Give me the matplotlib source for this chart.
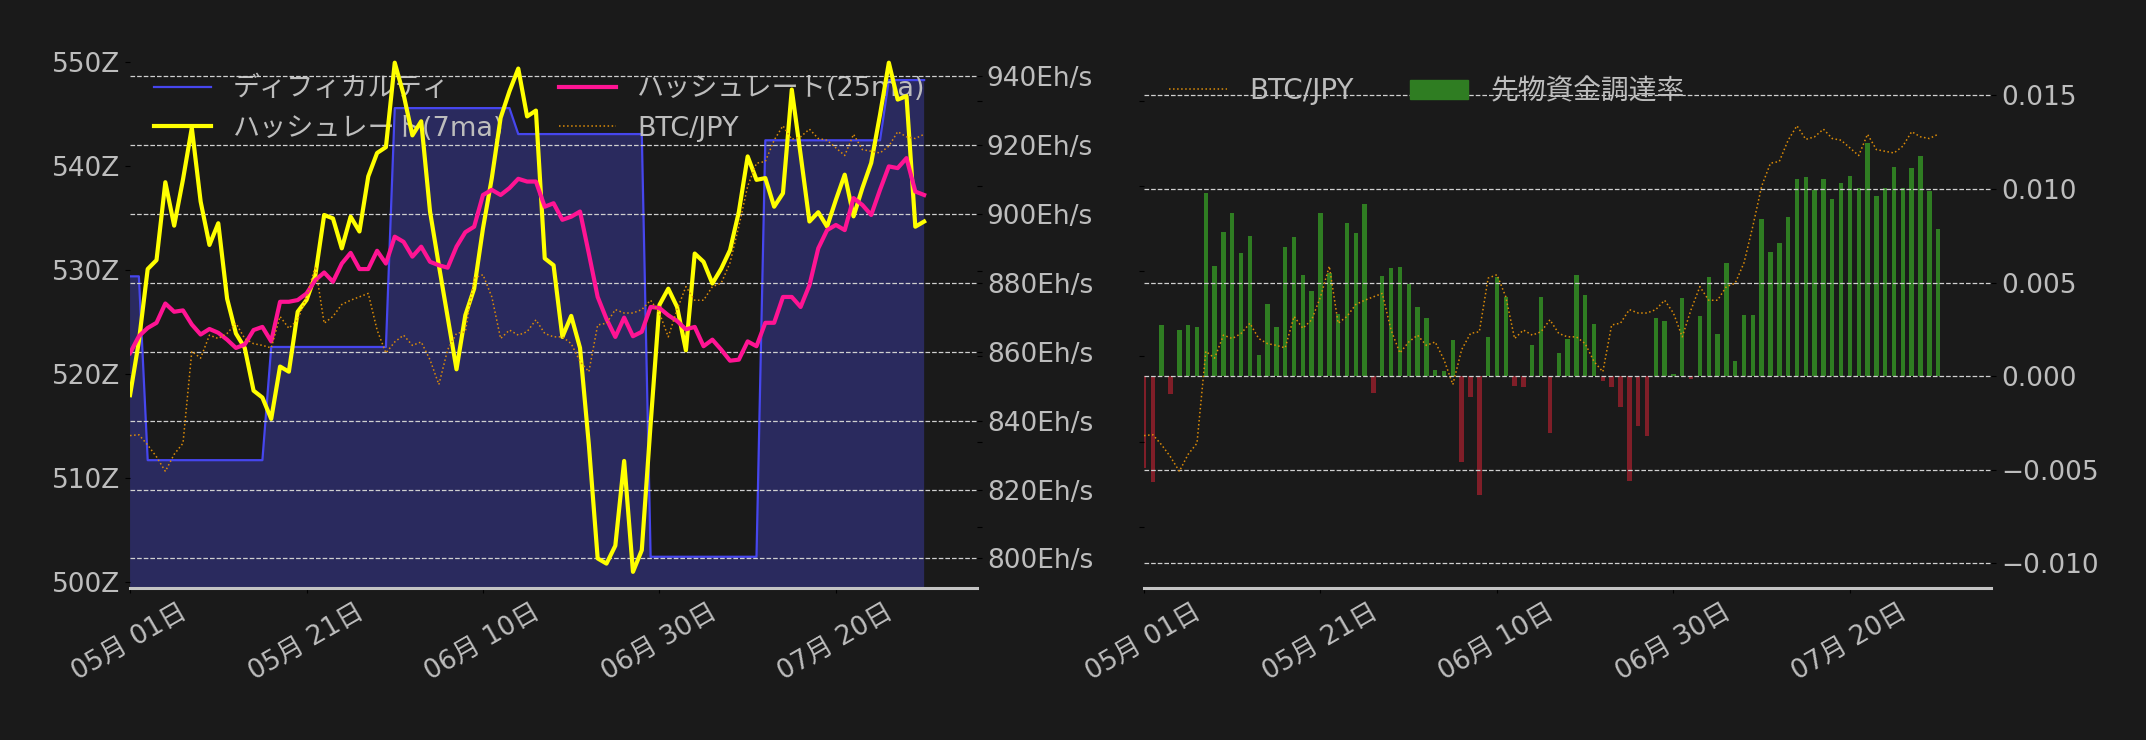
import matplotlib
matplotlib.use('Agg')
import matplotlib.pyplot as plt
import matplotlib.dates as mdates
import matplotlib.ticker as mticker
from matplotlib.patches import Patch
import numpy as np
import pandas as pd

plt.rcParams['font.family'] = ['DejaVu Sans', 'Noto Sans CJK JP']
plt.rcParams['font.size'] = 19

BG = '#1a1a1a'
TXT = '#bdbdbd'

dates = pd.date_range('2025-05-01', periods=91, freq='D')

# difficulty (Z) - levels between adjustments and how many days each lasted
diff_levels = [529.4, 511.7, 522.6, 545.6, 543.1, 502.4, 542.5, 548.3]
diff_days = [2, 14, 14, 14, 15, 13, 14, 5]

# hashrate 7 day MA (Eh/s)
hash7 = [847.4, 863.0, 884.0, 886.6, 909.2, 896.6, 910.0, 925.0, 903.6, 891.0,
         897.3, 875.4, 865.3, 861.1, 848.7, 846.7, 840.5, 855.7, 854.2, 871.6,
         875.0, 882.2, 899.7, 898.7, 890.0, 899.2, 894.9, 910.9, 917.7, 919.4,
         943.9, 934.7, 922.8, 926.9, 900.7, 885.1, 870.0, 854.9, 870.6, 878.3,
         895.8, 910.4, 927.9, 935.6, 942.2, 928.3, 930.0, 887.1, 885.1, 864.3,
         870.4, 861.1, 833.0, 800.0, 798.5, 803.7, 828.3, 796.1, 802.4, 839.0,
         873.6, 878.3, 873.0, 860.4, 888.5, 886.1, 879.8, 884.1, 889.5, 900.6,
         916.7, 909.9, 910.4, 902.1, 906.0, 936.1, 917.2, 897.8, 900.5, 896.3,
         904.1, 911.4, 899.3, 907.5, 914.8, 928.8, 943.9, 933.2, 934.2, 896.3, 897.8]

# hashrate 25 day MA (Eh/s)
hash25 = [859.6, 864.5, 866.9, 868.4, 874.0, 871.6, 872.0, 867.9, 865.0, 866.6,
          865.5, 863.5, 861.1, 862.1, 866.3, 867.2, 863.0, 874.5, 874.5, 875.0,
          876.9, 880.8, 883.0, 880.3, 885.6, 888.7, 884.0, 884.0, 889.3, 885.6,
          893.4, 891.9, 887.6, 890.5, 886.1, 885.1, 884.4, 890.5, 894.7, 896.3,
          905.5, 907.0, 905.5, 907.5, 910.2, 909.4, 909.4, 902.1, 903.1, 898.3,
          899.2, 900.7, 888.5, 875.9, 869.5, 864.3, 869.9, 864.5, 865.8, 873.0,
          872.7, 870.6, 868.9, 866.5, 867.2, 861.6, 863.5, 860.6, 857.4, 857.7,
          863.0, 861.6, 868.4, 868.4, 875.9, 875.9, 873.0, 879.3, 890.0, 895.3,
          896.8, 895.3, 904.6, 902.6, 899.7, 907.0, 913.8, 913.3, 916.2, 906.5, 905.5]

# BTC/JPY (million yen)
btc = [14.07, 14.08, 13.96, 13.82, 13.65, 13.85, 13.98, 15.06, 14.98, 15.25,
       15.21, 15.27, 15.39, 15.21, 15.15, 15.13, 15.10, 15.47, 15.33, 15.43,
       15.70, 16.06, 15.39, 15.47, 15.61, 15.66, 15.70, 15.74, 15.31, 15.04,
       15.17, 15.25, 15.13, 15.17, 14.96, 14.67, 15.08, 15.27, 15.29, 15.92,
       15.96, 15.70, 15.21, 15.31, 15.25, 15.29, 15.43, 15.27, 15.23, 15.23,
       15.15, 14.94, 14.82, 15.37, 15.39, 15.55, 15.51, 15.51, 15.55, 15.66,
       15.51, 15.23, 15.55, 15.82, 15.66, 15.66, 15.82, 15.86, 16.10, 16.53,
       17.00, 17.27, 17.29, 17.54, 17.71, 17.55, 17.58, 17.67, 17.56, 17.54,
       17.45, 17.36, 17.61, 17.43, 17.41, 17.39, 17.47, 17.64, 17.58, 17.56, 17.61]

# funding rate
funding = [-0.0049, -0.00566, 0.00275, -0.00097, 0.00248, 0.00275, 0.00264, 0.0098, 0.0059, 0.00772,
           0.00873, 0.0066, 0.0075, 0.00114, 0.00387, 0.00264, 0.00692, 0.00745, 0.00542, 0.00456,
           0.00873, 0.00553, 0.00333, 0.0082, 0.00766, 0.00922, -0.00088, 0.00537, 0.0058, 0.00585,
           0.00494, 0.00371, 0.00312, 0.00034, 0.00029, 0.00194, -0.0046, -0.00111, -0.00636, 0.0021,
           0.00531, 0.00424, -0.00052, -0.00056, 0.00168, 0.00424, -0.00303, 0.00125, 0.002, 0.00542,
           0.00435, 0.0028, -0.00025, -0.00057, -0.00163, -0.00561, -0.00265, -0.00319, 0.00312, 0.00296,
           0.00012, 0.00419, -0.00013, 0.00323, 0.00531, 0.00226, 0.00606, 0.00082, 0.00328, 0.00328,
           0.00841, 0.00665, 0.00713, 0.00852, 0.01055, 0.01066, 0.00996, 0.01055, 0.00948, 0.01034,
           0.01071, 0.01007, 0.01248, 0.00964, 0.01007, 0.0112, 0.01007, 0.01114, 0.01178, 0.00991, 0.00788]

xticks = pd.to_datetime(['2025-05-01', '2025-05-21', '2025-06-10', '2025-06-30', '2025-07-20'])

difficulty = np.repeat(diff_levels, diff_days)
btc_yen = np.array(btc) * 1e6
funding = np.array(funding)


def style(a):
    a.set_facecolor('none')
    for s in a.spines.values():
        s.set_visible(False)
    a.tick_params(colors='black', labelcolor=TXT, labelsize=19)


fig = plt.figure(figsize=(21.46, 7.40), dpi=100, facecolor=BG)

# ---------- left: difficulty / hashrate ----------
ax = fig.add_axes([0.0606, 0.2058, 0.3947, 0.7239])
ax.set_facecolor(BG)
ax.fill_between(dates, difficulty, 0, color='#2a2a5e', lw=0)
l_diff, = ax.plot(dates, difficulty, color='#4646ee', lw=1.6, label='ディフィカルティ')
ax.set_ylim(499.42, 551.0)
ax.set_yticks([500, 510, 520, 530, 540, 550])
ax.yaxis.set_major_formatter(mticker.FuncFormatter(lambda v, p: f'{v:.0f}Z'))

ax2 = ax.twinx()
l7, = ax2.plot(dates, hash7, color='#ffff00', lw=3, label='ハッシュレート(7ma)')
l25, = ax2.plot(dates, hash25, color='#ff1493', lw=3, label='ハッシュレート(25ma)')
ax2.set_ylim(791.5, 947.0)
ax2.set_yticks([800, 820, 840, 860, 880, 900, 920, 940])
ax2.yaxis.set_major_formatter(mticker.FuncFormatter(lambda v, p: f'{v:.0f}Eh/s'))
ax2.grid(axis='y', color='#d0d0d0', ls='--', lw=0.9)

ax3 = ax.twinx()
lb, = ax3.plot(dates, btc_yen, color='#dc8c08', lw=1.1, ls=':', label='BTC/JPY')
ax3.set_ylim(12.283e6, 18.576e6)
ax3.set_yticks([13e6, 14e6, 15e6, 16e6, 17e6, 18e6])
ax3.tick_params(labelright=False)

for a in (ax, ax2, ax3):
    style(a)
ax.spines['bottom'].set_visible(True)
ax.spines['bottom'].set_color('#c4c4c4')
ax.spines['bottom'].set_linewidth(2.2)

ax.legend(handles=[l_diff, l7, l25, lb], loc='upper left', ncol=2, frameon=False,
          labelcolor=TXT, fontsize=19.5, handlelength=2.1)

# ---------- right: funding rate ----------
bx = fig.add_axes([0.5331, 0.2058, 0.3947, 0.7239])
bx.set_facecolor(BG)
bar_colors = ['#2f7d22' if v >= 0 else '#801e28' for v in funding]
bx.bar(dates, funding, width=0.5, color=bar_colors)
bx.set_ylim(-0.0113, 0.01732)
bx.set_yticks([-0.01, -0.005, 0.0, 0.005, 0.01, 0.015])
bx.yaxis.set_major_formatter(mticker.FuncFormatter(lambda v, p: f'{v:.3f}'.replace('-', '\u2212')))
bx.grid(axis='y', color='#d0d0d0', ls='--', lw=0.9)

bx2 = bx.twinx()
lb2, = bx2.plot(dates, btc_yen, color='#dc8c08', lw=1.1, ls=':', label='BTC/JPY')
bx2.set_ylim(12.283e6, 18.576e6)
bx2.set_yticks([13e6, 14e6, 15e6, 16e6, 17e6, 18e6])

# twinx moves the original ticks to the left, so swap sides afterwards
bx.yaxis.tick_right()
bx.yaxis.set_label_position('right')
bx2.yaxis.tick_left()

for a in (bx, bx2):
    style(a)
bx2.tick_params(labelleft=False, labelright=False)
bx.spines['bottom'].set_visible(True)
bx.spines['bottom'].set_color('#c4c4c4')
bx.spines['bottom'].set_linewidth(2.2)

bx.legend(handles=[lb2, Patch(color='#2f7d22', label='先物資金調達率')], loc='upper left',
          ncol=2, frameon=False, labelcolor=TXT, fontsize=20, handlelength=2.1)

for a in (ax, bx):
    a.set_xlim(dates[0], pd.Timestamp('2025-08-05'))
    a.set_xticks(xticks)
    a.xaxis.set_major_formatter(mdates.DateFormatter('%m月 %d日'))
    a.tick_params(axis='x', pad=5)
    plt.setp(a.get_xticklabels(), rotation=30)

fig.savefig('out.png', dpi=100, facecolor=BG)
